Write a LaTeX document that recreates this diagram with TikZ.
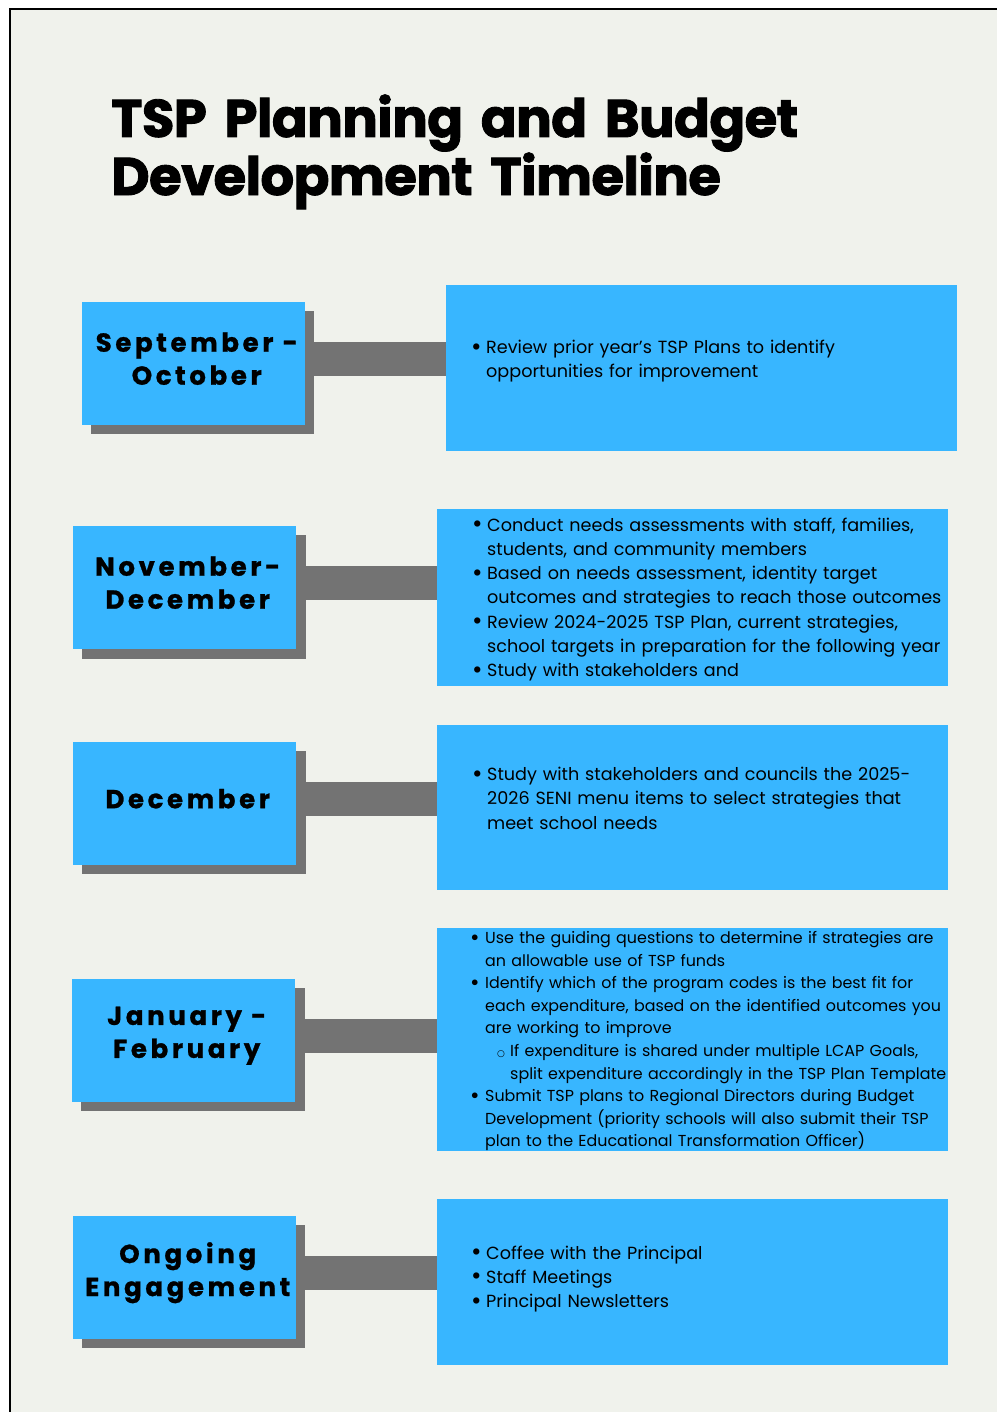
\documentclass[tikz,border=0pt]{standalone}
\usepackage{fontspec}
\setmainfont{Poppins}
\newfontfamily\titlefont{Poppins}[BoldFeatures={FakeBold=1.6},LetterSpace=-1.3]
\newfontfamily\labelfont{Poppins}[BoldFeatures={FakeBold=1},LetterSpace=14]
\newfontfamily\symfont{DejaVu Sans}
\definecolor{bg}{HTML}{F0F2EC}
\definecolor{tspblue}{HTML}{38B6FF}
\definecolor{shadowgray}{HTML}{737373}
\newcommand\bul{\raisebox{-1.6pt}{\scalebox{1.45}{•}}}
\newcommand\bl[1]{\makebox[15pt][l]{\bul}#1}
\newcommand\cl[1]{\hspace*{15pt}#1}
\newcommand\sbl[1]{\hspace*{27pt}\makebox[13pt][l]{\symfont\fontsize{9}{9}\selectfont ○}#1}
\newcommand\scl[1]{\hspace*{40pt}#1}
\tikzset{
  labelbox/.style={fill=tspblue, draw=none, minimum width=223pt, minimum height=123pt, anchor=north west, inner sep=0pt},
  contentbox/.style={fill=tspblue, draw=none, minimum width=511pt, anchor=north west, inner sep=0pt},
  labeltext/.style={font=\labelfont\bfseries\fontsize{26}{33}\selectfont, align=center, inner sep=0pt},
  bodytext/.style={font=\fontsize{17.6}{24.3}\selectfont, text width=490pt, align=left, anchor=base west, inner sep=0pt},
  smalltext/.style={font=\fontsize{15.9}{22.6}\selectfont, text width=490pt, align=left, anchor=base west, inner sep=0pt},
  bar/.style={draw=shadowgray, line width=34pt},
  shadow/.style={fill=shadowgray},
}
\begin{document}
\begin{tikzpicture}[x=1pt,y=-1pt]
\useasboundingbox (0,0) rectangle (997,1412);
\fill[white] (0,0) rectangle (997,1412);
\fill[bg] (10,9) rectangle (997,1412);
\draw[line width=2.5pt] (10,1412) -- (10,9) -- (997,9);

\node[font=\titlefont\bfseries\fontsize{53}{56}\selectfont, text width=800pt, align=left, anchor=base west, inner sep=0pt] (title) at (111,137) {TSP Planning and Budget\\Development Timeline};

% Row 1
\node[contentbox, minimum height=166pt] (c1) at (446,285) {};
\node[labelbox] (l1) at (82,302) {};
\draw[bar] ([yshift=4.5pt]l1.east) -- ([yshift=4.5pt]l1.east -| c1.west);
\fill[shadow] (91,311) rectangle (314,434);
\node[labelbox] (l1) at (82,302) {};
\node[labeltext] (t1) at ([xshift=3pt,yshift=5pt]l1.center) {September -\\October};
\node[bodytext] (b1) at (471,353.5) {\bl{Review prior year’s TSP Plans to identify}\\\cl{opportunities for improvement}};

% Row 2
\node[contentbox, minimum height=177pt] (c2) at (437,509) {};
\node[labelbox] (l2) at (73,526) {};
\draw[bar] ([yshift=4.5pt]l2.east) -- ([yshift=4.5pt]l2.east -| c2.west);
\fill[shadow] (82,535) rectangle (306,659);
\node[labelbox] (l2) at (73,526) {};
\node[labeltext] (t2) at ([xshift=3pt,yshift=5pt]l2.center) {November-\\December};
\node[bodytext] (b2) at (472,531) {\bl{Conduct needs assessments with staff, families,}\\\cl{students, and community members}\\\bl{Based on needs assessment, identity target}\\\cl{outcomes and strategies to reach those outcomes}\\\bl{Review 2024-2025 TSP Plan, current strategies,}\\\cl{school targets in preparation for the following year}\\\bl{Study with stakeholders and}};

% Row 3
\node[contentbox, minimum height=165pt] (c3) at (437,725) {};
\node[labelbox] (l3) at (73,742) {};
\draw[bar] ([yshift=4.5pt]l3.east) -- ([yshift=4.5pt]l3.east -| c3.west);
\fill[shadow] (82,751) rectangle (306,874);
\node[labelbox] (l3) at (73,742) {};
\node[labeltext] (t3) at ([xshift=3pt,yshift=5pt]l3.center) {December};
\node[bodytext] (b3) at (472,780.5) {\bl{Study with stakeholders and councils the 2025-}\\\cl{2026 SENI menu items to select strategies that}\\\cl{meet school needs}};

% Row 4
\node[contentbox, minimum height=223pt] (c4) at (437,928) {};
\node[labelbox] (l4) at (72,979) {};
\draw[bar] ([yshift=4.5pt]l4.east) -- ([yshift=4.5pt]l4.east -| c4.west);
\fill[shadow] (81,988) rectangle (305,1111);
\node[labelbox] (l4) at (72,979) {};
\node[labeltext] (t4) at ([xshift=3pt,yshift=5pt]l4.center) {January -\\February};
\node[smalltext] (b4) at (470,943.5) {\bl{Use the guiding questions to determine if strategies are}\\\cl{an allowable use of TSP funds}\\\bl{Identify which of the program codes is the best fit for}\\\cl{each expenditure, based on the identified outcomes you}\\\cl{are working to improve}\\\sbl{If expenditure is shared under multiple LCAP Goals,}\\\scl{split expenditure accordingly in the TSP Plan Template}\\\bl{Submit TSP plans to Regional Directors during Budget}\\\cl{Development (priority schools will also submit their TSP}\\\cl{plan to the Educational Transformation Officer)}};

% Row 5
\node[contentbox, minimum height=166pt] (c5) at (437,1199) {};
\node[labelbox] (l5) at (73,1216) {};
\draw[bar] ([yshift=4.5pt]l5.east) -- ([yshift=4.5pt]l5.east -| c5.west);
\fill[shadow] (82,1225) rectangle (305,1348);
\node[labelbox] (l5) at (73,1216) {};
\node[labeltext] (t5) at ([xshift=3pt,yshift=5pt]l5.center) {Ongoing\\Engagement};
\node[bodytext] (b5) at (471,1259) {\bl{Coffee with the Principal}\\\bl{Staff Meetings}\\\bl{Principal Newsletters}};
\end{tikzpicture}
\end{document}
